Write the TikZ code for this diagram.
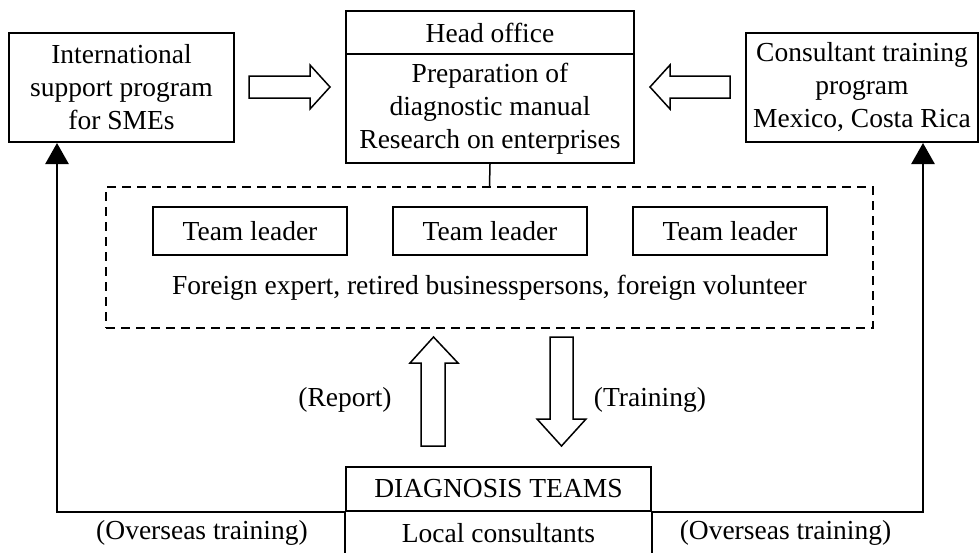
\documentclass[tikz,border=0pt]{standalone}
\usepackage{fontspec}
\setmainfont{Liberation Serif}
\usetikzlibrary{arrows.meta}
\begin{document}
\begin{tikzpicture}[x=1pt,y=-1pt,
  txt/.style={font=\fontsize{27.5}{33}\selectfont},
  box/.style={draw, line width=2pt, inner sep=0pt, align=center, txt},
  lbl/.style={inner sep=0pt, align=center, txt},
  hollow/.style={draw, line width=1.5pt, fill=white, line join=miter},
  link/.style={line width=2.6pt, -{Triangle[length=21pt,width=23pt]}},
  groupbox/.style={draw, line width=1.8pt, dash pattern=on 9pt off 6pt, inner sep=0pt}]
\useasboundingbox (0,0) rectangle (979,552);

% programmes feeding the head office
\node[box, minimum width=225pt, minimum height=109pt] (left) at (121.5,87.5)
  {International\\support program\\for SMEs};
\node[box, minimum width=232pt, minimum height=109pt] (right) at (862,87.5)
  {Consultant training\\program\\Mexico, Costa Rica};

% head office, two compartments
\node[box, minimum width=288pt, minimum height=43pt] (headtop) at (490,32.5) {Head office};
\node[box, minimum width=288pt, minimum height=109pt] (headbot) at (490,108.5)
  {Preparation of\\diagnostic manual\\Research on enterprises};

% expert group
\node[groupbox, minimum width=767pt, minimum height=141pt] (group) at (489.5,257.5) {};
\node[box, minimum width=194pt, minimum height=48pt] (tl1) at (250,231) {Team leader};
\node[box, minimum width=194pt, minimum height=48pt] (tl2) at (490,231) {Team leader};
\node[box, minimum width=194pt, minimum height=48pt] (tl3) at (730,231) {Team leader};
\node[lbl] (members) at (489.5,288) {Foreign expert, retired businesspersons, foreign volunteer};

% diagnosis teams, open at the bottom
\node[box, minimum width=305pt, minimum height=44pt] (diagtop) at (498.5,489) {DIAGNOSIS TEAMS};
\draw[line width=2pt] (diagtop.south west) -- ++(0,45);
\draw[line width=2pt] (diagtop.south east) -- ++(0,45);
\node[lbl] (local) at (498.5,533) {Local consultants};

% head office to group
\draw[line width=1.5pt] (headbot.south) -- (group.north);

% block arrows
\draw[hollow] (249,76) -- (310,76) -- (310,65) -- (330,87) -- (310,109) -- (310,98) -- (249,98) -- cycle;
\draw[hollow] (730,76) -- (670,76) -- (670,65) -- (650,87) -- (670,109) -- (670,98) -- (730,98) -- cycle;
\draw[hollow] (421,446) -- (421,363) -- (410,363) -- (433.5,337) -- (458,363) -- (445,363) -- (445,446) -- cycle;
\draw[hollow] (550,337) -- (573,337) -- (573,419) -- (586,419) -- (561.5,446) -- (537,419) -- (550,419) -- cycle;
\node[lbl] (report) at (345,400) {(Report)};
\node[lbl] (training) at (650,400) {(Training)};

% overseas training links
\draw[link] (diagtop.south west) -| ([xshift=49pt]left.south west);
\draw[link] (diagtop.south east) -| ([xshift=-56pt]right.south east);
\node[lbl] (ovl) at (202,533) {(Overseas training)};
\node[lbl] (ovr) at (785.5,533) {(Overseas training)};
\end{tikzpicture}
\end{document}
